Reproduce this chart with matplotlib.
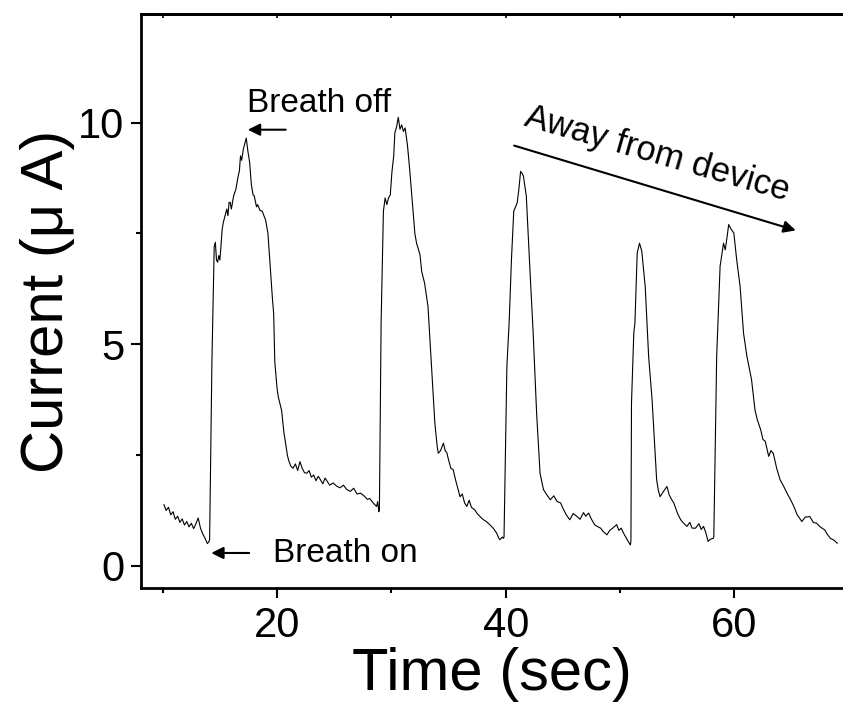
import numpy as np
import matplotlib
matplotlib.use("Agg")
import matplotlib.pyplot as plt

plt.rcParams['font.family'] = ['Liberation Sans', 'DejaVu Sans']

# Current trace, one list pair per breath pulse
t_pulse1 = [10.1, 10.3, 10.5, 10.7, 10.9, 11.1, 11.3, 11.5, 11.7, 11.9, 12.1, 12.3, 12.5, 12.7,
            12.9, 13.1, 13.3, 13.5, 13.7, 13.9, 14.05,
            14.1, 14.3, 14.5, 14.6, 14.7, 14.8, 14.9, 15.0, 15.2, 15.3, 15.45, 15.6, 15.7, 15.8,
            15.9, 16.0, 16.2, 16.4, 16.6, 16.7, 16.8, 16.9, 17.05, 17.15, 17.3, 17.45, 17.6,
            17.75, 17.9, 18.0, 18.2, 18.3, 18.5, 18.7, 18.85, 19.0, 19.2, 19.4, 19.6, 19.7,
            19.8, 20.0, 20.1, 20.3, 20.4, 20.6, 20.7, 20.9, 21.0, 21.2, 21.4, 21.6, 21.8, 22.0,
            22.2, 22.4, 22.6, 22.8, 23.0, 23.2, 23.4, 23.6, 23.8, 24.0, 24.2, 24.4, 24.6, 24.9,
            25.2, 25.5, 25.8, 26.1, 26.4, 26.7, 27.0, 27.3, 27.6, 27.9, 28.1, 28.4, 28.7, 28.8,
            28.9]
i_pulse1 = [1.38, 1.25, 1.32, 1.15, 1.22, 1.05, 1.12, 0.98, 1.06, 0.92, 1.0, 0.88, 0.96, 0.84,
            0.95, 1.08, 0.85, 0.72, 0.62, 0.5, 0.55,
            0.6, 4.6, 7.2, 7.3, 6.9, 6.85, 7.0, 6.9, 7.6, 7.75, 7.9, 8.05, 7.9, 8.2,
            8.2, 8.05, 8.35, 8.5, 8.8, 8.9, 9.25, 9.15, 9.4, 9.5, 9.65, 9.35, 9.1,
            8.6, 8.37, 8.35, 8.1, 8.15, 8.02, 8.0, 7.9, 7.8, 7.5, 6.76, 6.0, 5.7,
            4.6, 4.0, 3.82, 3.6, 3.5, 3.0, 2.84, 2.5, 2.39, 2.25, 2.2, 2.3, 2.15, 2.35,
            2.2, 2.1, 2.09, 2.15, 2.0, 2.05, 1.92, 2.02, 1.94, 1.85, 1.98, 1.9, 1.82, 1.87,
            1.8, 1.76, 1.82, 1.72, 1.68, 1.75, 1.62, 1.64, 1.58, 1.5, 1.52, 1.42, 1.34, 1.45,
            1.22]

t_pulse2 = [28.95, 29.1, 29.3, 29.45, 29.6, 29.75, 29.9, 30.05, 30.2, 30.3, 30.45, 30.6, 30.75,
            30.9, 31.05, 31.2, 31.4, 31.6, 31.9, 32.05, 32.2, 32.5, 32.65, 32.9, 33.2, 33.35,
            33.5, 33.8, 34.0, 34.1, 34.3, 34.55, 34.7, 34.85, 35.0, 35.2, 35.4, 35.6, 35.8,
            36.0, 36.2, 36.4, 36.6, 36.8, 37.0, 37.3, 37.5, 37.8, 38.05, 38.3, 38.6, 38.9,
            39.2, 39.4, 39.5, 39.7, 39.8]
i_pulse2 = [1.3, 5.5, 8.0, 8.3, 8.15, 8.3, 8.37, 8.9, 9.24, 9.77, 9.9, 10.12, 9.85,
            9.95, 9.8, 9.88, 9.5, 8.94, 7.96, 7.5, 7.28, 7.02, 6.64, 6.38, 5.85, 5.2,
            4.58, 3.22, 2.7, 2.54, 2.6, 2.77, 2.6, 2.55, 2.39, 2.2, 2.17, 1.95, 1.75,
            1.56, 1.62, 1.42, 1.34, 1.48, 1.32, 1.26, 1.18, 1.1, 1.04, 1.0, 0.93, 0.85,
            0.74, 0.62, 0.59, 0.65, 0.62]

t_pulse3 = [39.85, 40.1, 40.3, 40.5, 40.7, 41.0, 41.15, 41.3, 41.45, 41.55, 41.8, 42.1, 42.4,
            42.7, 43.0, 43.3, 43.6, 43.9, 44.2, 44.5, 44.8, 45.0, 45.3, 45.6, 45.9, 46.2,
            46.5, 46.8, 47.0, 47.25, 47.5, 47.8, 48.0, 48.3, 48.5, 48.85, 49.1, 49.4, 49.7,
            49.9, 50.1, 50.3, 50.6, 50.9]
i_pulse3 = [0.65, 4.5, 5.5, 6.91, 8.0, 8.19, 8.5, 8.9, 8.85, 8.79, 8.34, 6.76, 5.25,
            3.45, 2.09, 1.72, 1.6, 1.49, 1.58, 1.45, 1.42, 1.3, 1.15, 1.04, 1.18, 1.12,
            1.05, 1.2, 1.12, 1.19, 1.05, 0.92, 0.89, 0.85, 0.78, 0.7, 0.8, 0.86, 0.93,
            0.8, 0.85, 0.74, 0.6, 0.47]

t_pulse4 = [50.95, 51.0, 51.2, 51.3, 51.5, 51.7, 51.9, 52.2, 52.5, 52.8, 53.1, 53.2, 53.35,
            53.5, 53.8, 54.1, 54.3, 54.5, 54.7, 55.0, 55.3, 55.6, 55.85, 56.1, 56.3, 56.6,
            56.9, 57.1, 57.3, 57.5, 57.7, 57.9, 58.15]
i_pulse4 = [0.55, 3.67, 5.25, 5.48, 7.06, 7.28, 7.1, 6.3, 4.72, 3.75, 2.39, 1.94, 1.7,
            1.56, 1.68, 1.79, 1.6, 1.5, 1.42, 1.2, 1.04, 0.95, 0.89, 0.98, 0.85, 0.85,
            0.95, 0.82, 0.89, 0.75, 0.55, 0.6, 0.62]

t_pulse5 = [58.2, 58.45, 58.75, 59.05, 59.2, 59.35, 59.5, 59.7, 59.95, 60.2, 60.5, 60.8, 61.1,
            61.5, 61.8, 62.0, 62.3, 62.5, 62.7, 63.0, 63.2, 63.4, 63.7, 64.0, 64.3, 64.6,
            64.9, 65.2, 65.5, 65.9, 66.2, 66.6, 66.9, 67.2, 67.5, 67.9, 68.1, 68.4, 68.7,
            69.0]
i_pulse5 = [0.65, 4.72, 6.76, 7.28, 7.13, 7.4, 7.7, 7.6, 7.51, 6.91, 6.3, 5.25, 4.72,
            4.2, 3.52, 3.3, 3.07, 2.85, 2.81, 2.47, 2.6, 2.54, 2.2, 1.94, 1.8, 1.64,
            1.5, 1.34, 1.15, 1.0, 1.1, 1.11, 0.98, 0.96, 0.88, 0.81, 0.72, 0.62, 0.58,
            0.51]

time = np.concatenate([t_pulse1, t_pulse2, t_pulse3, t_pulse4, t_pulse5])
current = np.concatenate([i_pulse1, i_pulse2, i_pulse3, i_pulse4, i_pulse5])

fig = plt.figure(figsize=(8.43, 7.08), dpi=100)
ax = fig.add_axes([0.1673, 0.1695, 0.8327, 0.8107])

ax.plot(time, current, color='black', lw=0.8)

ax.set_xlim(8.1, 69.5)
ax.set_ylim(-0.5, 12.45)
ax.set_xticks([20, 40, 60])
ax.set_xticks([10, 30, 50], minor=True)
ax.set_yticks([0, 5, 10])
ax.set_yticks([2.5, 7.5], minor=True)

for side in ['left', 'bottom', 'top']:
    ax.spines[side].set_linewidth(2.0)
ax.spines['right'].set_visible(False)

ax.tick_params(which='major', direction='out', length=7, width=1.5, labelsize=30, pad=5)
ax.tick_params(which='minor', direction='out', length=3.5, width=1.5)
ax.tick_params(axis='x', which='major', pad=6)

# small inward ticks on the top frame
top = ax.secondary_xaxis('top')
top.set_xticks([10, 20, 30, 40, 50, 60])
top.tick_params(direction='in', length=3, width=1.2, labeltop=False)
top.spines['top'].set_linewidth(2.0)

ax.set_xlabel('Time (sec)', fontsize=43)
ax.set_ylabel('Current (μ A)', fontsize=43)
ax.xaxis.set_label_coords(0.5, -0.102)
ax.yaxis.set_label_coords(-0.094, 0.5)

arrow = dict(arrowstyle='-|>', color='black', lw=1.5, mutation_scale=18)

ax.annotate('', xy=(17.2, 9.84), xytext=(21.0, 9.84), arrowprops=arrow)
ax.text(17.4, 10.23, 'Breath off', fontsize=24, ha='left', va='baseline')

ax.annotate('', xy=(14.0, 0.29), xytext=(17.8, 0.29), arrowprops=arrow)
ax.text(19.65, 0.28, 'Breath on', fontsize=24, ha='left', va='center')

ax.annotate('', xy=(65.6, 7.55), xytext=(40.5, 9.5), arrowprops=arrow)
ax.text(41.5, 9.95, 'Away from device', fontsize=25, rotation=-16,
        rotation_mode='anchor', ha='left', va='baseline')

fig.savefig('out.png', dpi=100)
